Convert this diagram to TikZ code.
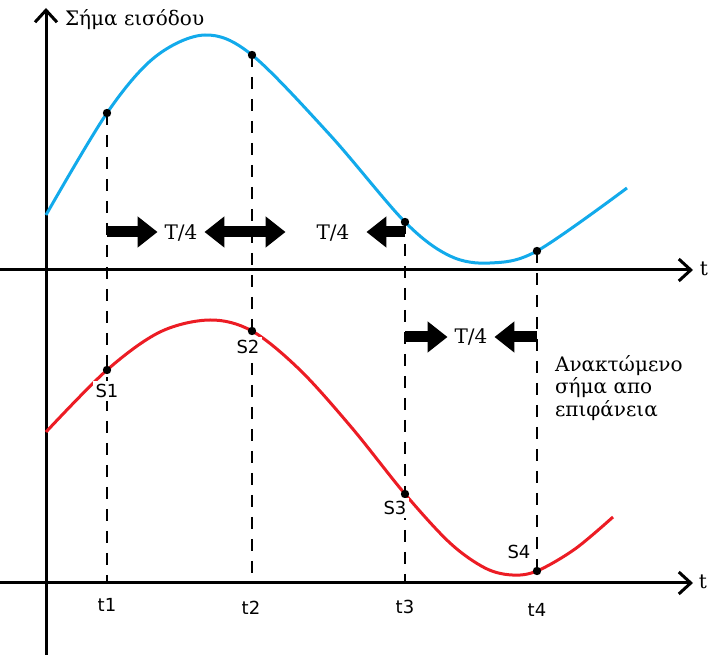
\documentclass[tikz,border=0pt]{standalone}
\usepackage{fontspec}
\setmainfont{DejaVu Serif}
\setsansfont{DejaVu Sans}
\usetikzlibrary{arrows.meta}
\definecolor{SigBlue}{RGB}{18,170,235}
\definecolor{SigRed}{RGB}{236,28,36}

\begin{document}
\begin{tikzpicture}[
    x=0.5pt,
    y=-0.5pt,
    font=\fontsize{10}{11.3}\selectfont,
    axis/.style={
        line width=1.5pt,
        -{Straight Barb[length=6pt,width=11pt]}
    },
    signal/.style={
        line width=1.5pt,
        smooth,
        tension=0.55
    },
    dot/.style={
        circle,
        fill=black,
        inner sep=0pt,
        minimum size=4.2pt
    },
    guide/.style={
        line width=0.6pt,
        dash pattern=on 6pt off 5pt
    },
    quarter/.style={
        line width=5.5pt,
        -{Triangle[length=10pt,width=15pt]}
    },
    tick/.style={
        font=\sffamily\fontsize{9}{10}\selectfont
    },
    sample/.style={
        tick,
        fill=white,
        inner sep=1.5pt
    }
]
\useasboundingbox (0,0) rectangle (709,657);

% axes
\coordinate (yaxbot) at (46,655);
\coordinate (yaxtop) at (46,8);
\coordinate (topl) at (0,270);
\coordinate (topr) at (693,270);
\coordinate (botl) at (0,583);
\coordinate (botr) at (693,583);
\draw[axis] (yaxbot) -- (yaxtop);
\draw[axis] (topl) -- (topr);
\draw[axis] (botl) -- (botr);

\node[anchor=west] (ylabel) at (58,20) {Σήμα εισόδου};
\node[inner sep=0pt] (ttop) at (704,269) {t};
\node[inner sep=0pt] (tbot) at (703,582) {t};

% input and recovered signals
\draw[signal, SigBlue] plot coordinates {
    (46,215) (107,113) (155,57) (205,35) (252,55) (330,135)
    (405,222) (450,256) (490,263) (537,251) (627,188)};
\draw[signal, SigRed] plot coordinates {
    (46,432) (107,370) (160,332) (210,320) (252,331) (300,370)
    (352,428) (405,494) (450,543) (485,568) (512,575) (537,571)
    (575,549) (613,517)};

\node[dot] (b1) at (107,113) {};
\node[dot] (b2) at (252,55) {};
\node[dot] (b3) at (405,222) {};
\node[dot] (b4) at (537,251) {};
\node[dot] (s1) at (107,370) {};
\node[dot] (s2) at (252,331) {};
\node[dot] (s3) at (405,494) {};
\node[dot] (s4) at (537,571) {};

\coordinate (a1) at (107,583);
\coordinate (a2) at (252,583);
\coordinate (a3) at (405,583);
\coordinate (a4) at (537,583);
\draw[guide] (b1.center) -- (a1);
\draw[guide] (b2.center) -- (a2);
\draw[guide] (b3.center) -- (a3);
\draw[guide] (b4.center) -- (a4);

\node[sample] (s1lbl) at (107,391) {S1};
\node[sample] (s2lbl) at (248,347) {S2};
\node[sample] (s3lbl) at (395,508) {S3};
\node[sample] (s4lbl) at (519,552) {S4};
\node[tick] (t1lbl) at (107,605) {t1};
\node[tick] (t2lbl) at (251,608) {t2};
\node[tick] (t3lbl) at (405,607) {t3};
\node[tick] (t4lbl) at (537,610) {t4};

% quarter period shifts
\coordinate (p1) at (107,232);
\coordinate (p2) at (252,232);
\coordinate (p3) at (405,232);
\coordinate (q3) at (405,337);
\coordinate (q4) at (537,337);
\node (qa) at (181,233) {T/4};
\node (qb) at (333,233) {T/4};
\node (qc) at (471,337) {T/4};
\draw[quarter] (p1) -- (qa.west |- p1);
\draw[quarter] (p2) -- (qa.east |- p2);
\draw[quarter] ([xshift=-1pt]p2) -- ([xshift=-12pt]qb.west |- p2);
\draw[quarter] (p3) -- ([xshift=5pt]qb.east |- p3);
\draw[quarter] (q3) -- (qc.west |- q3);
\draw[quarter] (q4) -- (qc.east |- q4);

\node[anchor=west, align=left] (rlabel) at (548,388)
{Ανακτώμενο\\σήμα απο\\επιφάνεια};

\end{tikzpicture}
\end{document}
